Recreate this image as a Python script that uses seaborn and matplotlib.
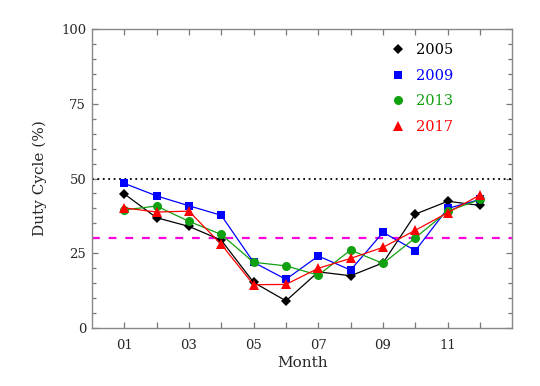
import numpy as np
import pandas as pd
import matplotlib
matplotlib.use("Agg")
import matplotlib.pyplot as plt
from matplotlib.lines import Line2D
from matplotlib.ticker import MultipleLocator
import seaborn as sns

# monthly duty cycle (%) per year
months = list(range(1, 13))
duty_2005 = [44.9, 36.9, 34.0, 29.4, 15.3, 9.1, 18.8, 17.5, 21.8, 38.1, 42.4, 41.0]
duty_2009 = [48.4, 44.2, 40.9, 37.7, 22.0, 16.3, 24.1, 19.4, 32.0, 25.9, 40.0, 43.0]
duty_2013 = [39.5, 40.8, 35.7, 31.3, 22.0, 20.8, 17.7, 26.1, 21.6, 30.2, 39.1, 43.0]
duty_2017 = [40.2, 38.8, 39.1, 28.0, 14.5, 14.6, 20.0, 23.3, 27.0, 32.7, 38.6, 44.5]

years = ["2005", "2009", "2013", "2017"]
colors = ["black", "#0000ff", "#10a010", "#ff0000"]
markers = ["D", "s", "o", "^"]
msizes = [5, 5.5, 6.5, 7.5]

ref_high = 50
ref_low = 30

df = pd.DataFrame({
    "Month": months * 4,
    "Duty": duty_2005 + duty_2009 + duty_2013 + duty_2017,
    "Year": np.repeat(years, 12),
})

sns.set_style("ticks")
plt.rcParams["font.family"] = ["DejaVu Serif"]

fig = plt.figure(figsize=(5.4, 3.86), dpi=100)
ax = fig.add_axes([0.170, 0.150, 0.779, 0.775])

ax.axhline(ref_high, color="black", ls=(0, (1, 2)), lw=1.3, zorder=1)
ax.axhline(ref_low, color="#ff00dd", ls=(0, (3.5, 4)), lw=1.6, zorder=1)

for yr, c, m, ms in zip(years, colors, markers, msizes):
    sns.lineplot(data=df[df["Year"] == yr], x="Month", y="Duty", ax=ax,
                 color=c, marker=m, markersize=ms, markeredgewidth=0,
                 lw=0.9, legend=False, zorder=3)

ax.set_xlim(0, 13)
ax.set_ylim(0, 100)
ax.set_xticks(months)
ax.set_xticklabels([f"{m:02d}" if m % 2 == 1 else "" for m in months])
ax.yaxis.set_major_locator(MultipleLocator(25))
ax.yaxis.set_minor_locator(MultipleLocator(5))
ax.tick_params(which="both", direction="in", top=True, right=True,
               color="#777777", width=0.9)
ax.tick_params(axis="x", which="major", length=4, pad=8, labelsize=9.5)
ax.tick_params(axis="y", which="major", length=4, pad=4, labelsize=9.5)
ax.tick_params(axis="y", which="minor", length=3)
for sp in ax.spines.values():
    sp.set_color("#888888")
    sp.set_linewidth(1.0)

ax.set_xlabel("Month", fontsize=11, labelpad=3)
ax.set_ylabel("Duty Cycle (%)", fontsize=11, labelpad=10)

handles = [Line2D([], [], ls="none", marker=m, color=c, markersize=ms, mew=0)
           for c, m, ms in zip(colors, markers, msizes)]
leg = ax.legend(handles, years, loc="upper right", frameon=False, fontsize=10.5,
                bbox_to_anchor=(0.89, 0.997), handletextpad=0.7,
                labelspacing=0.8, handlelength=1.0)
for t, c in zip(leg.get_texts(), colors):
    t.set_color(c)

fig.savefig("out.png", dpi=100)
